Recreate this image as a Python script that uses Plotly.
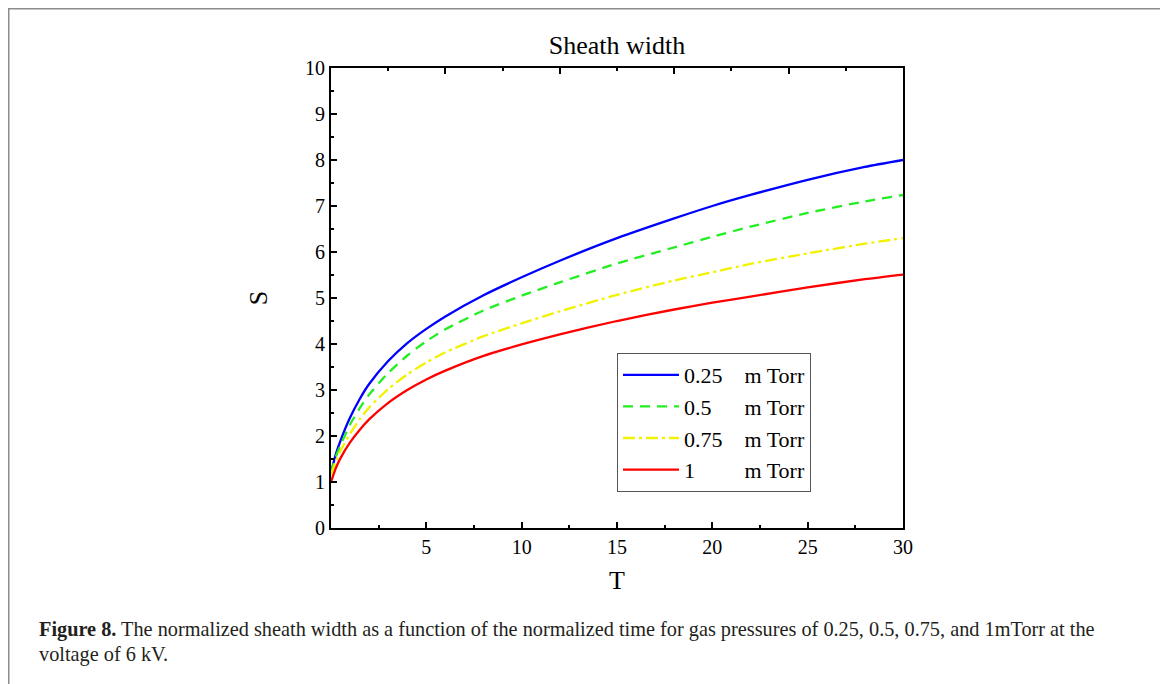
import plotly.graph_objects as go

# ---- data ----
T = [0, 0.25, 0.5, 1, 1.5, 2, 3, 4, 5, 6, 8, 10, 12, 15, 18, 20, 22, 25, 28, 30]
S_025 = [1.2, 1.6, 1.9, 2.4, 2.8, 3.13, 3.63, 4.02, 4.33, 4.6, 5.06, 5.45, 5.81, 6.3, 6.73, 7.0, 7.24, 7.57, 7.85, 8.0]
S_05 = [1.2, 1.55, 1.8, 2.25, 2.6, 2.9, 3.37, 3.75, 4.06, 4.32, 4.73, 5.05, 5.34, 5.75, 6.1, 6.33, 6.55, 6.85, 7.1, 7.24]
S_075 = [1.15, 1.45, 1.68, 2.05, 2.36, 2.62, 3.02, 3.34, 3.6, 3.82, 4.17, 4.45, 4.71, 5.07, 5.38, 5.56, 5.74, 5.97, 6.18, 6.3]
S_1 = [1.0, 1.3, 1.52, 1.86, 2.13, 2.36, 2.72, 3.0, 3.23, 3.42, 3.74, 3.99, 4.21, 4.5, 4.75, 4.9, 5.03, 5.23, 5.41, 5.51]

series_names = ["0.25", "0.5", "0.75", "1"]
series_values = [S_025, S_05, S_075, S_1]
series_colors = ["#0000ff", "#22ee22", "#f2f200", "#ff0000"]
series_dash = ["solid", "10px,7px", "12px,4px,3px,4px", "solid"]
pad_spaces = [4, 6, 4, 9]

x_ticks = [5, 10, 15, 20, 25, 30]
y_ticks = list(range(0, 11))

FONT = "Liberation Serif"
NB = "\u00a0"

# the page body has an 8px margin: figure coords = screen coords - 8
OFF = 8
FW, FH = 1168 - OFF, 684 - OFF
# plot area on screen: x 331..903, y 68..528
L = 331 - OFF
R = FW - (903 - OFF)
TOP = 68 - OFF
B = FH - (528 - OFF)
W, H = FW - L - R, FH - TOP - B


def px_x(sx):
    return (sx - OFF - L) / W


def px_y(sy):
    return (FH - B - (sy - OFF)) / H


fig = go.Figure()
for name, vals, col, dash, npad in zip(series_names, series_values, series_colors, series_dash, pad_spaces):
    fig.add_trace(go.Scatter(
        x=T, y=vals, mode="lines", name=name + NB * npad + "m Torr",
        line=dict(color=col, width=2.3, dash=dash, shape="spline", smoothing=0.6),
    ))

# invisible trace on the top axis to carry its ticks
fig.add_trace(go.Scatter(x=[0, 30], y=[0, 0], xaxis="x2", mode="lines",
                         line=dict(width=0), showlegend=False, hoverinfo="skip"))

fig.update_layout(
    width=FW, height=FH,
    margin=dict(l=L, r=R, t=TOP, b=B, autoexpand=False),
    paper_bgcolor="white", plot_bgcolor="white",
    font=dict(family=FONT, color="black", size=20),
    title=dict(text="Sheath width", x=(617 - OFF) / FW, xanchor="center",
               y=1 - (45 - OFF) / FH, yanchor="middle", font=dict(size=26, family=FONT)),
    showlegend=True,
    legend=dict(x=px_x(617), y=px_y(353), xanchor="left", yanchor="top",
                bgcolor="white", bordercolor="#555555", borderwidth=1,
                font=dict(size=22, family=FONT), tracegroupgap=0,
                itemwidth=56),
    xaxis=dict(range=[0, 30], tickvals=x_ticks, ticks="inside", ticklen=6, tickwidth=2,
               tickcolor="black", showline=True, linecolor="black", linewidth=2,
               mirror=True, showgrid=False, zeroline=False,
               minor=dict(tickvals=[2.5, 7.5, 12.5, 17.5, 22.5, 27.5], ticks="inside",
                          ticklen=3, tickwidth=2, tickcolor="black"),
               tickfont=dict(size=20, family=FONT),
               title=dict(text="T", font=dict(size=26, family=FONT), standoff=14)),
    xaxis2=dict(range=[0, 30], overlaying="x", side="top", tickvals=[6, 12, 18, 24],
                ticks="inside", ticklen=6, tickwidth=2, tickcolor="black",
                showticklabels=False, showline=False, showgrid=False, zeroline=False,
                minor=dict(tickvals=[3, 9, 15, 21, 27], ticks="inside", ticklen=3,
                           tickwidth=2, tickcolor="black")),
    yaxis=dict(range=[0, 10], tickvals=y_ticks, ticks="inside", ticklen=6, tickwidth=2,
               tickcolor="black", showline=True, linecolor="black", linewidth=2,
               mirror=True, showgrid=False, zeroline=False,
               minor=dict(dtick=0.5, ticks="inside", ticklen=3, tickwidth=2,
                          tickcolor="black"),
               tickfont=dict(size=20, family=FONT),
               title=dict(text="S", font=dict(size=26, family=FONT), standoff=30)),
)

# outer grey frame of the figure panel
fig.add_shape(type="rect", xref="paper", yref="paper",
              x0=px_x(8.5), x1=px_x(1163), y0=px_y(720), y1=px_y(8.5),
              line=dict(color="#8c8c8c", width=2), fillcolor="rgba(0,0,0,0)", layer="below")

# caption
fig.add_annotation(xref="paper", yref="paper", x=px_x(37), y=px_y(629),
                   xanchor="left", yanchor="middle", showarrow=False, align="left",
                   text="<b>Figure 8.</b> The normalized sheath width as a function of the normalized time "
                        "for gas pressures of 0.25, 0.5, 0.75, and 1mTorr at the",
                   font=dict(size=20.3, family=FONT, color="#231f20"))
fig.add_annotation(xref="paper", yref="paper", x=px_x(37), y=px_y(654),
                   xanchor="left", yanchor="middle", showarrow=False, align="left",
                   text="voltage of 6 kV.",
                   font=dict(size=20.3, family=FONT, color="#231f20"))

fig.write_html("out.html")
